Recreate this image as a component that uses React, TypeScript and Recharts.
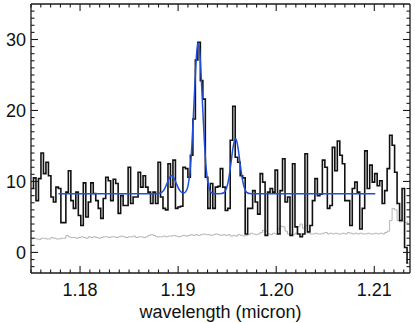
import React from "react";
import { ComposedChart, Line, XAxis, YAxis } from "recharts";

// wavelength grid of the binned spectrum (micron)
const binStart = 1.175;
const binWidth = 0.0002539;

// observed flux per bin (black histogram)
const flux = [
  9.0, 10.5, 7.3, 10.4, 14, 11.1, 12.7, 10.8, 7.8, 7.1,
  9.2, 9, 4.2, 4.2, 8.5, 11.5, 7.3, 6.2, 8.5, 5.2,
  3.8, 9.8, 5.0, 7.1, 9.8, 8.3, 7.3, 6.2, 4.8, 7.6,
  10.6, 10.1, 7.3, 10.3, 9.7, 5.5, 8, 6.6, 6.6, 12,
  6.9, 7.8, 7.8, 11.3, 9.2, 10.8, 9.2, 8.5, 6.9, 8.5,
  6.9, 12.7, 7.8, 6.2, 6, 12.5, 9.2, 13, 6.2, 6.4,
  6.5, 12, 11.8, 10.6, 13.7, 18.8, 27.1, 29.6, 24.2, 21.6,
  10.6, 6.2, 9.7, 6.2, 9.2, 9.3, 11.8, 9.2, 5.9, 6.2,
  15.8, 20.6, 13.4, 12.7, 10.8, 10.5, 2.6, 6.2, 6.2, 8.7,
  7.1, 5.4, 11.1, 9.9, 2.4, 8.5, 9.0, 8.5, 11.6, 2.6,
  8.7, 13.2, 7.1, 7.8, 2.4, 12.5, 3.6, 2.6, 2.2, 2.6,
  13.9, 2.9, 3.8, 7.3, 10.4, 8.0, 8.2, 13, 12, 6.2,
  6.6, 14.8, 11.5, 15.7, 13.7, 12.5, 7.3, 7.3, 3.8, 9.0,
  9.9, 8.5, 3.3, 6.2, 14.3, 9, 12.3, 9.9, 11.1, 9.4,
  10.1, 6.9, 8.7, 11.8, 16.5, 15.1, 11.3, 6.9, 4.5, 9,
  0.7, -1.5,
];

// noise / error per bin (grey line)
const noise = [
  1.9, 2.0, 1.9, 1.8, 2.0, 2.0, 1.9, 1.9, 2.1, 2.0, 1.9, 1.9, 2.0, 2.0,
  2.4, 2.2,
  2.1, 2.1, 2.0, 2.1, 2.2, 2.1, 2.0, 2.2, 2.1, 2.2, 2.1, 2.0, 2.1, 2.2, 2.2,
  2.1, 2.2, 2.2, 2.1, 2.2, 2.3, 2.2, 2.1, 2.2, 2.2, 2.3, 2.1, 2.2, 2.2, 2.1, 2.2, 2.4, 2.5, 2.4, 2.2,
  2.2, 2.2, 2.3, 2.2, 2.3, 2.3, 2.4, 2.3, 2.2, 2.3, 2.4, 2.3, 2.4, 2.5, 2.4, 2.5, 2.4, 2.5, 2.6, 2.5,
  2.5, 2.4, 2.5, 2.6, 2.5, 2.4, 2.5, 2.4, 2.5, 2.3, 2.4, 2.3, 2.5, 2.4, 2.3, 2.4, 2.5, 2.7, 2.6, 2.5,
  2.6, 2.8, 3.1, 3.0, 2.6, 2.5, 2.7, 2.6, 3.3, 3.7, 3.6, 3.0, 2.6, 2.6, 2.5, 2.7, 3.6, 4.0, 3.4, 3.8,
  2.7, 2.6, 2.6, 2.7, 2.6, 2.6, 2.7, 2.8, 2.6, 2.7, 2.6, 2.7, 2.6, 2.6, 2.7, 2.6, 2.8, 2.7, 2.6, 2.7,
  2.6, 2.7, 2.6, 2.6, 2.7, 2.6, 2.6, 2.7, 2.6, 2.7, 2.6, 2.8,
  3.0, 4.5, 6.2, 6.0, 4.5, 4.3, 4.4, 4.2, 4.3,
];

// fitted model (blue curve)
const modelWave = [
  1.1778, 1.1875, 1.188, 1.1882, 1.1884, 1.1886, 1.1888, 1.189, 1.1892, 1.1893,
  1.1894, 1.1896, 1.1898, 1.19, 1.1902, 1.1904, 1.1906, 1.1908, 1.191, 1.1912,
  1.1914, 1.1916, 1.1918, 1.1919, 1.192, 1.19205, 1.1921, 1.1922, 1.1923, 1.1925,
  1.1927, 1.1929, 1.1931, 1.1933, 1.1935, 1.1937, 1.194, 1.1944, 1.1946, 1.1948,
  1.195, 1.1952, 1.1954, 1.1956, 1.1957, 1.1958, 1.19585, 1.1959, 1.196, 1.1961,
  1.1963, 1.1965, 1.1967, 1.1969, 1.1971, 1.1973, 1.1976, 1.2101,
];
const modelFlux = [
  8.26, 8.26, 8.3, 8.37, 8.55, 8.92, 9.5, 10.15, 10.69, 10.79,
  10.77, 10.41, 9.77, 9.13, 8.67, 8.43, 8.38, 8.59, 9.35, 11.27,
  15.03, 20.54, 26.2, 28.25, 29.36, 29.5, 29.36, 28.25, 26.2, 20.54,
  15.03, 11.27, 9.35, 8.57, 8.33, 8.27, 8.26, 8.29, 8.37, 8.65,
  9.36, 10.73, 12.73, 14.8, 15.54, 15.95, 16.0, 15.95, 15.54, 14.8,
  12.73, 10.73, 9.36, 8.65, 8.37, 8.29, 8.26, 8.26,
];

const xMajor = [1.18, 1.19, 1.2, 1.21];
const yMajor = [0, 10, 20, 30];
const xTitle = "wavelength (micron)";

const spectrum = flux.map((f, i) => ({
  w: binStart + binWidth * (i + 0.5),
  f,
  n: noise[i],
}));
const model = modelWave.map((w, i) => ({ w, m: modelFlux[i] }));

const X_DOMAIN: [number, number] = [1.175, 1.21364];
const Y_DOMAIN: [number, number] = [-2.9, 35];

const xTicks: number[] = [];
for (let k = 1175; k <= 1213; k++) xTicks.push(k / 1000);
const yTicks: number[] = [];
for (let v = -2; v <= 34; v++) yTicks.push(v);

const FONT = "'Liberation Sans', Arial, Helvetica, sans-serif";
const AX = "#1a1a1a";
const MAJ = 7;
const MIN = 3.5;
const TW = 1.1;

const isMajorX = (v: number) => xMajor.some((m) => Math.abs(m - v) < 1e-6);
const isMajorY = (v: number) => yMajor.includes(v);

function BottomTick(props: any) {
  const { x, y, payload } = props;
  const major = isMajorX(payload.value);
  return (
    <g>
      <line x1={x} x2={x} y1={y} y2={y - (major ? MAJ : MIN)} stroke={AX} strokeWidth={TW} />
      {major && (
        <text x={x} y={y + 23} textAnchor="middle" fontSize={18} fontFamily={FONT} fill="#111">
          {payload.value.toFixed(2)}
        </text>
      )}
    </g>
  );
}

function TopTick(props: any) {
  const { x, y, payload } = props;
  const major = isMajorX(payload.value);
  return (
    <g>
      <line x1={x} x2={x} y1={y} y2={y + (major ? MAJ : MIN)} stroke={AX} strokeWidth={TW} />
    </g>
  );
}

function LeftTick(props: any) {
  const { x, y, payload } = props;
  const major = isMajorY(payload.value);
  return (
    <g>
      <line x1={x} x2={x + (major ? MAJ : MIN)} y1={y} y2={y} stroke={AX} strokeWidth={TW} />
      {major && (
        <text x={x - 5} y={y + 6.5} textAnchor="end" fontSize={18} fontFamily={FONT} fill="#111">
          {String(payload.value)}
        </text>
      )}
    </g>
  );
}

function RightTick(props: any) {
  const { x, y, payload } = props;
  const major = isMajorY(payload.value);
  return (
    <g>
      <line x1={x} x2={x - (major ? MAJ : MIN)} y1={y} y2={y} stroke={AX} strokeWidth={TW} />
    </g>
  );
}

function TitleLabel(props: any) {
  const vb = props.viewBox || {};
  const cx = vb.x !== undefined && vb.width !== undefined ? vb.x + vb.width / 2 : 220.5;
  return (
    <text x={cx} y={318} textAnchor="middle" fontSize={18} fontFamily={FONT} fill="#111">
      {xTitle}
    </text>
  );
}

export default function App() {
  const axisLine = { stroke: AX, strokeWidth: 1.3 };
  return (
    <div style={{ position: "absolute", left: 0, top: 0, background: "#fff" }}>
      <ComposedChart width={415} height={323} margin={{ top: 3, right: 4, left: 0, bottom: 0 }}>
        <XAxis
          xAxisId="b"
          dataKey="w"
          type="number"
          domain={X_DOMAIN}
          allowDataOverflow
          ticks={xTicks}
          interval={0}
          tickSize={0}
          tickMargin={0}
          tickLine={false}
          axisLine={axisLine}
          tick={<BottomTick />}
          height={50}
          label={<TitleLabel />}
        />
        <XAxis
          xAxisId="t"
          dataKey="w"
          type="number"
          orientation="top"
          domain={X_DOMAIN}
          allowDataOverflow
          ticks={xTicks}
          interval={0}
          tickSize={0}
          tickMargin={0}
          tickLine={false}
          axisLine={axisLine}
          tick={<TopTick />}
          height={1}
        />
        <YAxis
          yAxisId="l"
          type="number"
          domain={Y_DOMAIN}
          allowDataOverflow
          ticks={yTicks}
          interval={0}
          tickSize={0}
          tickMargin={0}
          tickLine={false}
          axisLine={axisLine}
          tick={<LeftTick />}
          width={31}
        />
        <YAxis
          yAxisId="r"
          orientation="right"
          type="number"
          domain={Y_DOMAIN}
          allowDataOverflow
          ticks={yTicks}
          interval={0}
          tickSize={0}
          tickMargin={0}
          tickLine={false}
          axisLine={axisLine}
          tick={<RightTick />}
          width={1}
        />
        <Line
          xAxisId="b"
          yAxisId="l"
          data={spectrum}
          dataKey="n"
          type="step"
          stroke="#b4b4b4"
          strokeWidth={1}
          dot={false}
          activeDot={false}
          isAnimationActive={false}
        />
        <Line
          xAxisId="t"
          yAxisId="r"
          data={spectrum}
          dataKey="f"
          type="step"
          stroke="#111"
          strokeWidth={1.6}
          dot={false}
          activeDot={false}
          isAnimationActive={false}
        />
        <Line
          xAxisId="b"
          yAxisId="l"
          data={model}
          dataKey="m"
          type="monotone"
          stroke="#1f4fe0"
          strokeWidth={1.5}
          dot={false}
          activeDot={false}
          isAnimationActive={false}
        />
      </ComposedChart>
    </div>
  );
}
